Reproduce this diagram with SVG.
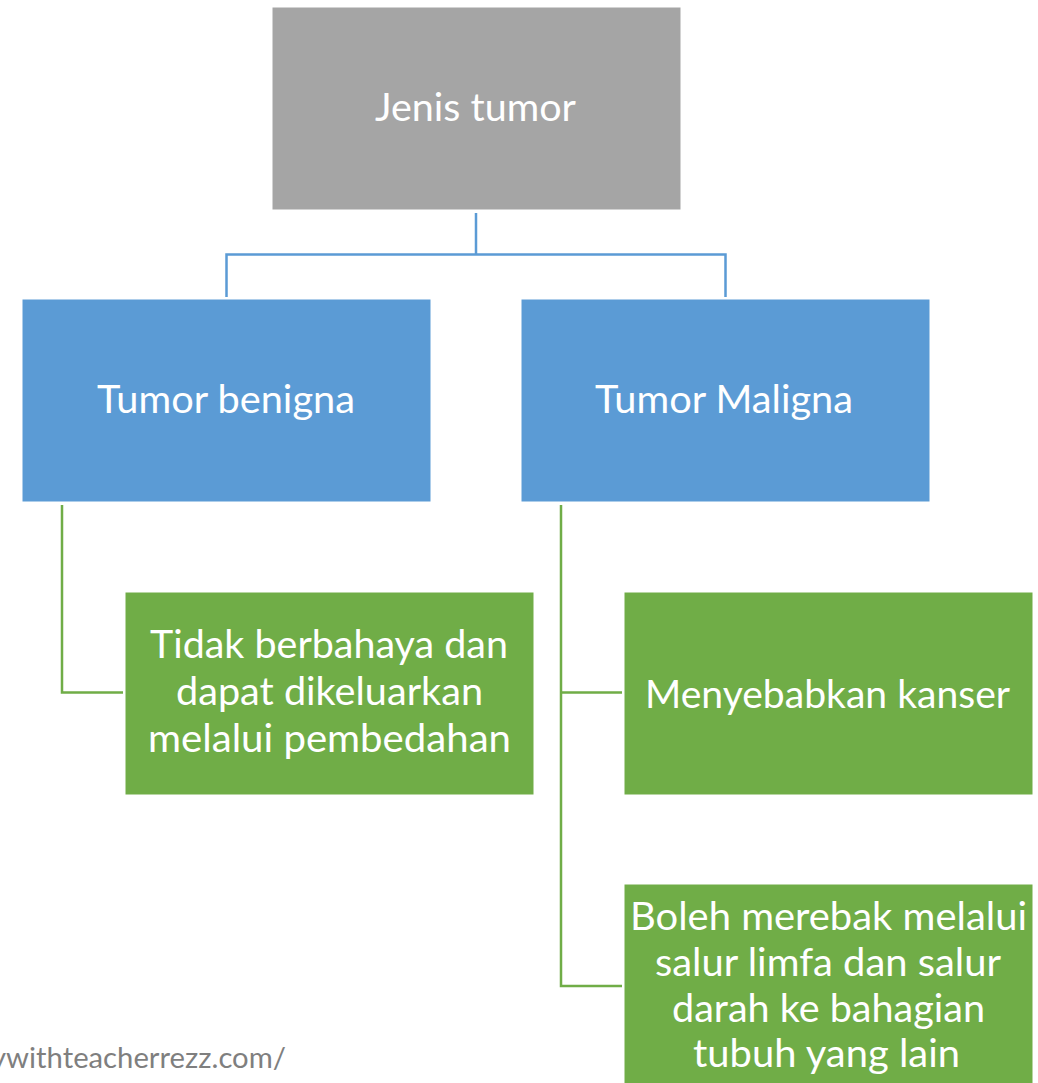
<svg xmlns="http://www.w3.org/2000/svg" width="1038" height="1083" viewBox="0 0 1038 1083">
<style>
.lbl{font-family:Lato,"Open Sans","Liberation Sans",sans-serif;font-size:38px;fill:#FFFFFF}
.gray{fill:#A5A5A5;stroke:#FFFFFF;stroke-width:1}
.blue{fill:#5B9BD5;stroke:#FFFFFF;stroke-width:1}
.green{fill:#70AD47;stroke:#FFFFFF;stroke-width:1}
.cb{fill:none;stroke:#5B9BD5;stroke-width:2.5}
.cg{fill:none;stroke:#70AD47;stroke-width:2.5}
.wm{font-family:Lato,"Open Sans","Liberation Sans",sans-serif;font-size:28px;fill:#7F7F7F}
</style>
<rect width="1038" height="1083" fill="#FFFFFF"/>
<g id="connectors">
<path class="cb" d="M476,213 V254.5 M226.5,297 V254.5 H725.5 V297"/>
<path class="cg" d="M62,505 V692.5 H123"/>
<path class="cg" d="M561,505 V986 H622 M561,692.5 H622"/>
</g>
<g id="node-jenis">
<rect class="gray" x="272" y="7" width="409" height="203"/>
<text class="lbl" x="375" y="121" textLength="201" lengthAdjust="spacingAndGlyphs">Jenis tumor</text>
</g>
<g id="node-benigna">
<rect class="blue" x="22" y="299" width="409" height="203"/>
<text class="lbl" x="97" y="413" textLength="258" lengthAdjust="spacingAndGlyphs">Tumor benigna</text>
</g>
<g id="node-maligna">
<rect class="blue" x="521" y="299" width="409" height="203"/>
<text class="lbl" x="595" y="413" textLength="258" lengthAdjust="spacingAndGlyphs">Tumor Maligna</text>
</g>
<g id="node-tidak">
<rect class="green" x="125" y="592" width="409" height="203"/>
<text class="lbl" x="150" y="658" textLength="358" lengthAdjust="spacingAndGlyphs">Tidak berbahaya dan</text>
<text class="lbl" x="176" y="705" textLength="307" lengthAdjust="spacingAndGlyphs">dapat dikeluarkan</text>
<text class="lbl" x="148" y="752" textLength="363" lengthAdjust="spacingAndGlyphs">melalui pembedahan</text>
</g>
<g id="node-kanser">
<rect class="green" x="624" y="592" width="409" height="203"/>
<text class="lbl" x="645" y="708" textLength="365" lengthAdjust="spacingAndGlyphs">Menyebabkan kanser</text>
</g>
<g id="node-merebak">
<rect class="green" x="624" y="884" width="409" height="205"/>
<text class="lbl" x="630" y="930" textLength="397" lengthAdjust="spacingAndGlyphs">Boleh merebak melalui</text>
<text class="lbl" x="655" y="976" textLength="346" lengthAdjust="spacingAndGlyphs">salur limfa dan salur</text>
<text class="lbl" x="672" y="1022" textLength="313" lengthAdjust="spacingAndGlyphs">darah ke bahagian</text>
<text class="lbl" x="693" y="1067" textLength="267" lengthAdjust="spacingAndGlyphs">tubuh yang lain</text>
</g>
<text class="wm" x="-9" y="1068" textLength="295" lengthAdjust="spacingAndGlyphs">ywithteacherrezz.com/</text>
</svg>
